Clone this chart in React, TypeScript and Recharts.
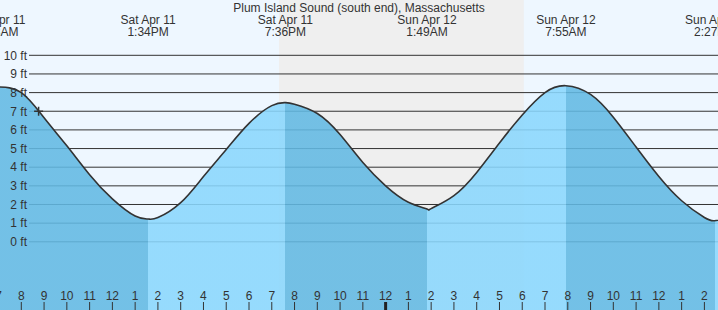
import { ComposedChart, Area, XAxis, YAxis, CartesianGrid, ReferenceArea, ReferenceDot } from 'recharts';

// times are hours from Sat Apr 11 00:00
const hourTimes = [8, 9, 10, 11, 12, 13, 14, 15, 16, 17, 18, 19, 20, 21, 22, 23, 24, 25, 26, 27, 28, 29, 30, 31, 33, 34, 35, 36, 37, 38, 39];
const hourLevels = [8.0, 6.65, 5.15, 3.6, 2.3, 1.38, 1.3, 2.1, 3.5, 4.95, 6.35, 7.3, 7.38, 6.88, 5.75, 4.25, 3.0, 2.12, 1.78, 2.48, 3.72, 5.3, 6.8, 8.0, 7.9, 6.68, 5.08, 3.5, 2.2, 1.3, 1.25];

const extremeTimes = [6.967, 13.567, 19.6, 25.817, 31.917, 38.45];
const extremeLevels = [8.3, 1.22, 7.46, 1.76, 8.37, 1.13];
const extremeDates = ['Sat Apr 11', 'Sat Apr 11', 'Sat Apr 11', 'Sun Apr 12', 'Sun Apr 12', 'Sun Apr 12'];
const extremeClock = ['6:58AM', '1:34PM', '7:36PM', '1:49AM', '7:55AM', '2:27PM'];

const hourTicks = [7, 8, 9, 10, 11, 12, 13, 14, 15, 16, 17, 18, 19, 20, 21, 22, 23, 24, 25, 26, 27, 28, 29, 30, 31, 32, 33, 34, 35, 36, 37, 38];
const depthTicks = [0, 1, 2, 3, 4, 5, 6, 7, 8, 9, 10];

const nightStart = 19.317; // sunset 7:19PM
const nightEnd = 30.067; // sunrise 6:04AM
const nowTime = 8.76;
const nowLevel = 7.0;

const title = 'Plum Island Sound (south end), Massachusetts';

const W = 718;
const H = 310;
const FONT = '"Liberation Sans", Arial, sans-serif';
const TEXT = '#333';
const FALLING = '#62b9e3';
const RISING = '#8ad7fd';

const data = [
  ...hourTimes.map((t, i) => ({ t, level: hourLevels[i] })),
  ...extremeTimes.map((t, i) => ({ t, level: extremeLevels[i] })),
].sort((a, b) => a.t - b.t);

// phase boundaries -> hard-stop horizontal gradient (falling darker, rising lighter)
const tFirst = data[0].t;
const tLast = data[data.length - 1].t;
const bounds = [tFirst, ...extremeTimes.filter((t) => t > tFirst && t < tLast), tLast];
const levelAt = (t: number) => data.find((d) => d.t === t)!.level;
const stops: { off: number; color: string }[] = [];
for (let i = 0; i < bounds.length - 1; i++) {
  const color = levelAt(bounds[i]) > levelAt(bounds[i + 1]) ? FALLING : RISING;
  stops.push({ off: (bounds[i] - tFirst) / (tLast - tFirst), color });
  stops.push({ off: (bounds[i + 1] - tFirst) / (tLast - tFirst), color });
}

function HourTick({ x, payload }: any) {
  const t = payload.value as number;
  const h = t % 12 === 0 ? 12 : t % 12;
  const midnight = t % 24 === 0;
  return (
    <g>
      <text x={x} y={H - 10} textAnchor="middle" fontSize={12} fontFamily={FONT} fill={TEXT}>{h}</text>
      <line x1={x} x2={x} y1={H - 8} y2={H} stroke={midnight ? '#222' : TEXT} strokeWidth={midnight ? 3 : 1} />
    </g>
  );
}

function ExtremeTick({ x, payload }: any) {
  const i = extremeTimes.indexOf(payload.value);
  if (i < 0) return <g />;
  return (
    <g fontSize={12} fontFamily={FONT} fill={TEXT}>
      <text x={x} y={23.6} textAnchor="middle">{extremeDates[i]}</text>
      <text x={x} y={36} textAnchor="middle">{extremeClock[i]}</text>
    </g>
  );
}

function DepthTick({ y, payload }: any) {
  return (
    <text x={27} y={y} dy={4.3} textAnchor="end" fontSize={12} fontFamily={FONT} fill={TEXT}>
      {`${payload.value} ft`}
    </text>
  );
}

function PlusMark({ cx, cy }: any) {
  return (
    <path d={`M${cx - 4.5},${cy}H${cx + 4.5}M${cx},${cy - 4.5}V${cy + 4.5}`} stroke={TEXT} strokeWidth={1.5} />
  );
}

export default function App() {
  return (
    <div style={{ position: 'absolute', left: 0, top: 0, width: W, height: H, background: '#eef7ff', fontFamily: FONT, overflow: 'hidden' }}>
      <ComposedChart width={W} height={H} data={data} margin={{ top: -1, right: 0, bottom: -1, left: -1 }}>
        <defs>
          <linearGradient id="tideFill" x1="0" y1="0" x2="1" y2="0">
            {stops.map((s, i) => (
              <stop key={i} offset={s.off} stopColor={s.color} />
            ))}
          </linearGradient>
        </defs>
        <ReferenceArea x1={nightStart} x2={nightEnd} fill="#efefef" fillOpacity={1} stroke="none" ifOverflow="hidden" zIndex={-150} />
        <CartesianGrid x={29} width={W - 29} vertical={false} horizontalValues={depthTicks} stroke="#333" strokeWidth={1} />
        <Area
          type="natural"
          dataKey="level"
          baseValue="dataMin"
          stroke="#333"
          strokeWidth={1.6}
          fill="url(#tideFill)"
          fillOpacity={0.88}
          dot={false}
          activeDot={false}
          isAnimationActive={false}
        />
        <ReferenceDot x={nowTime} y={nowLevel} shape={PlusMark} ifOverflow="visible" />
        <XAxis
          dataKey="t"
          type="number"
          domain={[7.0646, 38.597]}
          allowDataOverflow
          ticks={hourTicks}
          interval={0}
          height={1}
          axisLine={false}
          tickLine={false}
          tick={HourTick}
        />
        <XAxis
          xAxisId="top"
          orientation="top"
          dataKey="t"
          type="number"
          domain={[7.0646, 38.597]}
          allowDataOverflow
          ticks={extremeTimes}
          interval={0}
          height={1}
          axisLine={false}
          tickLine={false}
          tick={ExtremeTick}
        />
        <YAxis
          type="number"
          domain={[-3.657, 12.965]}
          allowDataOverflow
          ticks={depthTicks}
          interval={0}
          width={1}
          axisLine={false}
          tickLine={false}
          tick={DepthTick}
        />
      </ComposedChart>
      <div style={{ position: 'absolute', left: 0, top: 1, width: W, textAlign: 'center', fontSize: 12, lineHeight: '14px', color: TEXT }}>
        {title}
      </div>
    </div>
  );
}
